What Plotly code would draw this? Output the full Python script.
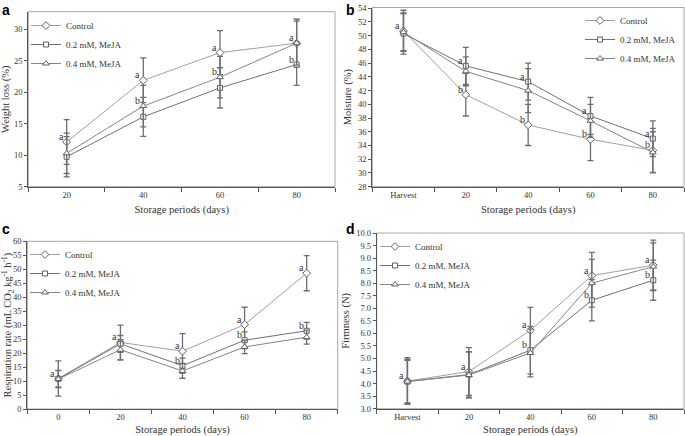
import plotly.graph_objects as go

# ---------------- data ----------------
series_names = ["Control", "0.2 mM, MeJA", "0.4 mM, MeJA"]

# Panel a: weight loss (%)
a_cats = ["20", "40", "60", "80"]
a_control = [12.1, 21.9, 26.3, 27.8]
a_control_err = [3.55, 3.55, 3.5, 3.8]
a_02 = [9.75, 16.1, 20.7, 24.4]
a_02_err = [3.2, 3.1, 3.2, 3.3]
a_04 = [10.3, 17.8, 22.4, 27.8]
a_04_err = [3.2, 3.3, 3.3, 3.5]
a_letters_control = ["a", "a", "a", "a"]
a_letters_02 = [None, None, None, "b"]
a_letters_04 = [None, "b", "b", None]

# Panel b: moisture (%)
b_cats = ["Harvest", "20", "40", "60", "80"]
b_control = [50.7, 41.4, 37.0, 34.9, 33.3]
b_control_err = [3.0, 3.1, 3.0, 3.1, 3.2]
b_02 = [50.3, 45.6, 43.3, 38.3, 35.0]
b_02_err = [3.0, 2.7, 2.7, 2.7, 2.6]
b_04 = [50.5, 44.8, 42.0, 37.6, 33.0]
b_04_err = [2.7, 2.1, 3.2, 2.4, 3.0]
b_letters_control = ["a", "b", "b", "b", "b"]
b_letters_02 = [None, "a", "a", "a", "a"]
b_letters_04 = [None, None, None, None, None]

# Panel c: respiration rate
c_cats = ["0", "20", "40", "60", "80"]
c_control = [10.9, 23.8, 20.7, 30.2, 48.6]
c_control_err = [6.3, 6.2, 6.3, 6.2, 6.3]
c_02 = [10.8, 23.3, 15.5, 24.6, 28.0]
c_02_err = [3.0, 3.0, 2.7, 3.0, 3.0]
c_04 = [10.7, 21.2, 13.6, 22.2, 25.7]
c_04_err = [3.0, 3.6, 2.6, 2.4, 2.5]
c_letters_control = ["a", "a", "a", "a", "a"]
c_letters_02 = [None, None, "b", "b", "b"]
c_letters_04 = [None, None, None, None, None]

# Panel d: firmness (N)
d_cats = ["Harvest", "20", "40", "60", "80"]
d_control = [4.1, 4.48, 6.12, 8.3, 8.72]
d_control_err = [0.93, 0.95, 0.92, 0.93, 1.0]
d_02 = [4.08, 4.36, 5.33, 7.32, 8.12]
d_02_err = [0.88, 0.9, 0.95, 0.82, 0.8]
d_04 = [4.08, 4.34, 5.22, 8.0, 8.66]
d_04_err = [0.85, 0.92, 0.95, 0.95, 0.95]
d_letters_control = ["a", "a", "a", "a", "a"]
d_letters_02 = [None, None, "b", "b", "b"]
d_letters_04 = [None, None, None, None, None]

# ---------------- styling ----------------
SERIF = "Liberation Serif, Times New Roman, serif"
symbols = ["diamond", "square", "triangle-up"]
marker_sizes = [6, 5, 6]
line_colors = ["#a0a0a0", "#707070", "#858585"]
ERR_COLOR = "#6e6e6e"
TEXT_COLOR = "#333333"

fig = go.Figure()

panels = [
    dict(cats=a_cats, ys=[a_control, a_02, a_04], errs=[a_control_err, a_02_err, a_04_err],
         letters=[a_letters_control, a_letters_02, a_letters_04], ax="", legend="legend"),
    dict(cats=b_cats, ys=[b_control, b_02, b_04], errs=[b_control_err, b_02_err, b_04_err],
         letters=[b_letters_control, b_letters_02, b_letters_04], ax="2", legend="legend2"),
    dict(cats=c_cats, ys=[c_control, c_02, c_04], errs=[c_control_err, c_02_err, c_04_err],
         letters=[c_letters_control, c_letters_02, c_letters_04], ax="3", legend="legend3"),
    dict(cats=d_cats, ys=[d_control, d_02, d_04], errs=[d_control_err, d_02_err, d_04_err],
         letters=[d_letters_control, d_letters_02, d_letters_04], ax="4", legend="legend4"),
]

annotations = []
for p in panels:
    xa = "x" + p["ax"]
    ya = "y" + p["ax"]
    pos = list(range(len(p["cats"])))
    for i in range(3):
        fig.add_trace(go.Scatter(
            x=pos, y=p["ys"][i], name=series_names[i],
            mode="lines+markers",
            line=dict(color=line_colors[i], width=1),
            marker=dict(symbol=symbols[i], size=marker_sizes[i], color="white",
                        line=dict(color="#606060", width=1)),
            error_y=dict(type="data", array=p["errs"][i], color=ERR_COLOR,
                         thickness=1.3, width=3),
            xaxis=xa, yaxis=ya, legend=p["legend"],
        ))
        for j, lt in enumerate(p["letters"][i]):
            if lt:
                annotations.append(dict(
                    x=pos[j], y=p["ys"][i][j], xref=xa, yref=ya,
                    text=lt, showarrow=False, xanchor="right", yanchor="bottom",
                    xshift=-1, yshift=-2,
                    font=dict(family=SERIF, size=10, color=TEXT_COLOR)))

tickfont = dict(family=SERIF, size=8.5, color=TEXT_COLOR)
titlefont = dict(family=SERIF, size=10.5, color=TEXT_COLOR)

def xaxis(domain, anchor, cats):
    n = len(cats)
    return dict(domain=domain, anchor=anchor, type="linear", range=[-0.5, n - 0.5],
                tickmode="array", tickvals=list(range(n)), ticktext=cats, ticks="",
                minor=dict(tickmode="linear", tick0=-0.5, dtick=1, ticks="outside",
                           ticklen=4, tickcolor="#555555", showgrid=False),
                showline=True, linecolor="#555555", linewidth=1, showgrid=False,
                zeroline=False, tickfont=tickfont, automargin=False,
                title=dict(text="Storage periods (days)", font=titlefont, standoff=6))

def yaxis(domain, anchor, rng, dtick, title, fmt=None):
    d = dict(domain=domain, anchor=anchor, range=rng, tick0=rng[0], dtick=dtick,
             ticks="outside", ticklen=3, tickcolor="#555555", showline=True,
             linecolor="#555555", linewidth=1, showgrid=False, zeroline=False,
             tickfont=tickfont, automargin=False,
             title=dict(text=title, font=titlefont, standoff=4))
    if fmt:
        d["tickformat"] = fmt
    return d

W, H = 685, 436
def dx(a, b):
    return [a / W, b / W]
def dy(top, bottom):
    return [1 - bottom / H, 1 - top / H]

fig.update_layout(
    template="none",
    width=W, height=H, margin=dict(l=0, r=0, t=0, b=0, autoexpand=False),
    paper_bgcolor="white", plot_bgcolor="white",
    font=dict(family=SERIF, color=TEXT_COLOR),
    xaxis=xaxis(dx(28.3, 335), "y", a_cats),
    yaxis=yaxis(dy(11.7, 186.7), "x", [5, 32.8], 5, "Weight loss (%)"),
    xaxis2=xaxis(dx(372.3, 684), "y2", b_cats),
    yaxis2=yaxis(dy(7.5, 186.7), "x2", [28, 54.1], 2, "Moisture (%)"),
    xaxis3=xaxis(dx(27.3, 337.7), "y3", c_cats),
    yaxis3=yaxis(dy(241.3, 409), "x3", [0, 60], 5,
                 "Respiration rate (mL CO<sub>2</sub> kg<sup>-1</sup> h<sup>-1</sup>)"),
    xaxis4=xaxis(dx(376.7, 684), "y4", d_cats),
    yaxis4=yaxis(dy(233, 408.7), "x4", [3, 10], 0.5, "Firmness (N)", ".1f"),
    annotations=annotations,
)

legend_common = dict(bgcolor="rgba(0,0,0,0)", font=dict(family=SERIF, size=9, color=TEXT_COLOR),
                     itemwidth=30, tracegroupgap=0, xanchor="left", yanchor="top")
fig.update_layout(
    legend=dict(x=26 / W, y=1 - 11 / H, **legend_common),
    legend2=dict(x=580 / W, y=1 - 6 / H, **legend_common),
    legend3=dict(x=25 / W, y=1 - 240 / H, **legend_common),
    legend4=dict(x=375 / W, y=1 - 232 / H, **legend_common),
)

# plot-area frames
for ax in ["", "2", "3", "4"]:
    fig.add_shape(type="rect", xref=f"x{ax} domain", yref=f"y{ax} domain",
                  x0=0, x1=1, y0=0, y1=1, line=dict(color="#a8a8a8", width=1), layer="below")

# panel labels
for lbl, px, py in [("a", 0, 0), ("b", 344, 0), ("c", 0, 219), ("d", 344, 219)]:
    fig.add_annotation(x=px / W, y=1 - py / H, xref="paper", yref="paper", text=f"<b>{lbl}</b>",
                       showarrow=False, xanchor="left", yanchor="top",
                       font=dict(family="Liberation Sans, Arial, sans-serif", size=14, color="black"))

fig.write_html("out.html", config={"displayModeBar": False},
               post_script="document.body.style.margin='0px';document.body.style.overflow='hidden';")
